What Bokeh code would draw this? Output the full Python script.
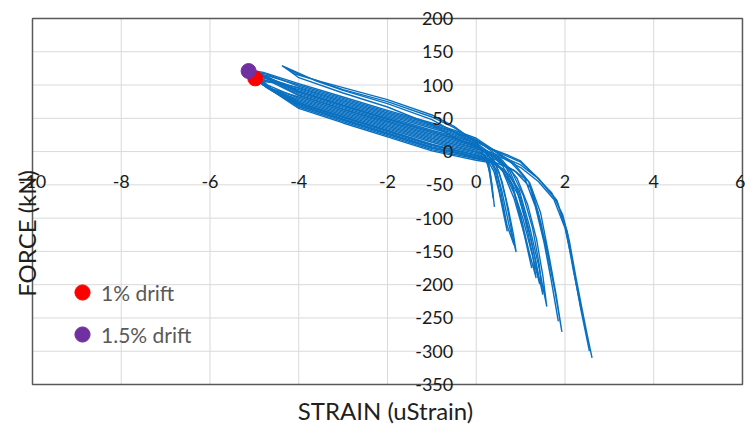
from math import pi
from bokeh.plotting import figure
from bokeh.models import LinearAxis, FixedTicker, Legend, LegendItem, Label, Range1d
from bokeh.embed import file_html
from bokeh.resources import INLINE

# ---------------- data ----------------
x_ticks = [-10, -8, -6, -4, -2, 0, 2, 4, 6]
y_ticks = [200, 150, 100, 50, 0, -50, -100, -150, -200, -250, -300, -350]

loop1_x = [-5.0, -4.7, -4.0, -3.0, -2.0, -1.0, -0.5, 0.0, 0.2, 0.28, 0.33, 0.37, 0.41,
           0.36, 0.3, 0.22, 0.1, 0.0, -0.5, -1.0, -2.0, -3.0, -4.0, -4.6, -5.0]
loop1_y = [110, 96, 78, 57, 36, 16, 7, -1, -6, -18, -40, -60, -83,
           -55, -30, -12, 2, 12, 23, 32, 52, 72, 93, 105, 110]

loop2_x = [-4.9, -4.6, -4.0, -3.0, -2.0, -1.0, -0.5, 0.0, 0.2, 0.27, 0.33, 0.38,
           0.35, 0.3, 0.15, 0.0, -0.5, -1.0, -2.0, -3.0, -4.0, -4.5, -4.9]
loop2_y = [106, 94, 82, 61, 40, 20, 11, 2, -5, -20, -45, -70,
           -48, -25, -3, 15, 27, 37, 56, 76, 96, 103, 106]

loop3_x = [-5.13, -4.8, -4.0, -3.0, -2.0, -1.0, -0.5, 0.0, 0.3, 0.45, 0.58, 0.73, 0.9,
           0.84, 0.72, 0.58, 0.42, 0.2, 0.0, -0.5, -1.0, -2.0, -3.0, -4.0, -4.7, -5.13]
loop3_y = [121, 100, 71, 49, 28, 7, 0, -8, -13, -28, -60, -108, -151,
           -125, -85, -45, -16, -1, 7, 17, 26, 46, 66, 87, 110, 121]

loop4_x = [-5.05, -4.7, -4.0, -3.0, -2.0, -1.0, -0.5, 0.0, 0.3, 0.43, 0.56, 0.7, 0.85,
           0.78, 0.66, 0.52, 0.36, 0.0, -0.5, -1.0, -2.0, -3.0, -4.0, -4.6, -5.05]
loop4_y = [117, 97, 74, 53, 32, 11, 3, -5, -11, -30, -72, -112, -140,
           -112, -70, -32, -8, 10, 21, 30, 50, 70, 91, 108, 117]

loop5_x = [-5.1, -4.75, -4.0, -3.0, -2.0, -1.0, -0.5, 0.0, 0.3, 0.55, 0.8, 1.05, 1.25, 1.43,
           1.34, 1.18, 0.98, 0.76, 0.5, 0.2, 0.0, -0.5, -1.0, -2.0, -3.0, -4.0, -4.7, -5.1]
loop5_y = [120, 98, 67, 45, 24, 3, -4, -11, -15, -24, -50, -100, -152, -199,
           -165, -115, -65, -30, -12, 0, 8, 19, 28, 48, 68, 89, 112, 120]

loop6_x = [-5.0, -4.6, -4.0, -3.0, -2.0, -1.0, -0.5, 0.0, 0.35, 0.6, 0.85, 1.1, 1.35,
           1.27, 1.1, 0.9, 0.66, 0.35, 0.0, -0.5, -1.0, -2.0, -3.0, -4.0, -4.6, -5.0]
loop6_y = [114, 94, 76, 55, 34, 14, 5, -3, -12, -30, -70, -128, -190,
           -155, -102, -55, -22, -4, 13, 25, 35, 54, 74, 95, 108, 114]

loop7_x = [-5.12, -4.8, -4.0, -3.0, -2.0, -1.0, -0.5, 0.0, 0.35, 0.65, 0.97, 1.2, 1.4, 1.59,
           1.5, 1.36, 1.16, 0.92, 0.6, 0.3, 0.0, -0.5, -1.0, -2.0, -3.0, -4.0, -4.7, -5.12]
loop7_y = [122, 100, 65, 43, 22, 1, -6, -13, -17, -28, -58, -112, -170, -233,
           -186, -132, -80, -40, -14, 3, 17, 29, 39, 58, 78, 98, 116, 122]

loop8_x = [-5.05, -4.7, -4.0, -3.0, -2.0, -1.0, -0.5, 0.0, 0.4, 0.68, 0.97, 1.22, 1.5,
           1.42, 1.27, 1.06, 0.8, 0.5, 0.2, 0.0, -0.5, -1.0, -2.0, -3.0, -4.0, -4.6, -5.05]
loop8_y = [118, 96, 72, 51, 30, 9, 2, -6, -14, -33, -68, -128, -215,
           -170, -115, -66, -30, -10, 0, 5, 15, 24, 44, 64, 85, 106, 118]

loop9_x = [-5.13, -4.85, -4.0, -3.0, -2.0, -1.0, -0.5, 0.0, 0.45, 0.85, 1.2, 1.45, 1.65, 1.8, 1.93,
           1.78, 1.6, 1.4, 1.18, 0.85, 0.45, 0.0, -0.5, -1.0, -2.0, -3.0, -4.0, -4.8, -5.13]
loop9_y = [123, 102, 69, 47, 26, 5, -2, -10, -17, -28, -46, -92, -160, -215, -271,
           -212, -152, -92, -45, -18, 0, 20, 32, 43, 62, 82, 102, 119, 123]

loop10_x = [-5.08, -4.7, -4.0, -3.0, -2.0, -1.0, -0.5, 0.0, 0.5, 0.88, 1.22, 1.46, 1.66, 1.85,
            1.7, 1.53, 1.33, 1.08, 0.75, 0.35, 0.0, -0.5, -1.0, -2.0, -3.0, -4.0, -4.7, -5.08]
loop10_y = [119, 100, 80, 59, 38, 18, 9, 0, -14, -30, -54, -108, -182, -255,
            -197, -137, -82, -38, -14, 3, 18, 30, 41, 60, 80, 100, 114, 119]

loop11_x = [-4.38, -4.1, -3.5, -3.0, -2.0, -1.0, -0.5, -0.1, 0.3, 0.7, 1.0, 1.44, 1.82, 2.0,
            2.19, 2.34, 2.45, 2.61,
            2.5, 2.38, 2.25, 2.1, 1.95, 1.7, 1.35, 1.0, 0.6, 0.2, -0.3, -1.0, -2.0, -3.0,
            -3.6, -4.0, -4.38]
loop11_y = [129, 117, 105, 96, 78, 55, 38, 18, 5, -5, -14, -44, -74, -110,
            -179, -228, -262, -310,
            -275, -235, -190, -135, -95, -62, -38, -20, -8, 2, 22, 48, 72, 92,
            106, 118, 129]

loop12_x = [-4.3, -4.0, -3.0, -2.0, -1.0, -0.5, 0.0, 0.4, 1.0, 1.4, 1.8, 2.05, 2.2, 2.35, 2.55,
            2.42, 2.3, 2.15, 2.0, 1.75, 1.4, 1.0, 0.6, 0.2, -0.4, -1.0, -2.0, -3.0, -4.0, -4.3]
loop12_y = [126, 116, 93, 75, 52, 36, 15, 2, -16, -40, -72, -120, -180, -235, -300,
            -255, -215, -160, -115, -72, -45, -24, -10, 0, 18, 40, 67, 88, 111, 126]

loop13_x = [-5.02, -4.7, -4.0, -3.0, -2.0, -1.0, -0.5, 0.0, 0.35, 0.6, 0.85, 1.05, 1.25,
            1.15, 1.0, 0.82, 0.6, 0.35, 0.0, -0.5, -1.0, -2.0, -3.0, -4.0, -4.6, -5.02]
loop13_y = [113, 95, 69, 48, 27, 6, -1, -9, -14, -28, -62, -115, -175,
            -140, -95, -52, -22, -5, 4, 13, 22, 42, 63, 84, 104, 113]

loop14_x = [-5.1, -4.75, -4.0, -3.0, -2.0, -1.0, -0.5, 0.0, 0.25, 0.4, 0.52, 0.62, 0.7,
            0.64, 0.55, 0.45, 0.3, 0.0, -0.5, -1.0, -2.0, -3.0, -4.0, -4.7, -5.1]
loop14_y = [119, 99, 73, 52, 31, 10, 2, -6, -12, -30, -62, -95, -120,
            -92, -58, -28, -8, 9, 20, 30, 49, 69, 90, 112, 119]

drift1_x = [-4.98]
drift1_y = [110]
drift15_x = [-5.13]
drift15_y = [121]

loops_x = [loop1_x, loop2_x, loop3_x, loop4_x, loop5_x, loop6_x, loop7_x,
           loop8_x, loop9_x, loop10_x, loop11_x, loop12_x, loop13_x, loop14_x]
loops_y = [loop1_y, loop2_y, loop3_y, loop4_y, loop5_y, loop6_y, loop7_y,
           loop8_y, loop9_y, loop10_y, loop11_y, loop12_y, loop13_y, loop14_y]

# ---------------- figure ----------------
FONT = "Lato"
X_MIN, X_MAX = x_ticks[0], x_ticks[-1]
Y_MIN, Y_MAX = y_ticks[-1], y_ticks[0]

# the frame covers the whole canvas; the chart's plot area is drawn inside it
p = figure(width=745, height=429,
           x_range=Range1d(-10.721, 6.068), y_range=Range1d(-417.6, 227.0),
           output_backend="svg", toolbar_location=None, title=None,
           x_axis_location=None, y_axis_location=None,
           min_border_left=0, min_border_right=0, min_border_top=0, min_border_bottom=0)
p.background_fill_color = "white"
p.border_fill_color = "white"
p.outline_line_color = None
for g in p.grid:
    g.visible = False

# grid lines inside the plot area
p.segment(x0=x_ticks, y0=[Y_MIN] * len(x_ticks), x1=x_ticks, y1=[Y_MAX] * len(x_ticks),
          line_color="#d9d9d9", line_width=1)
p.segment(x0=[X_MIN] * len(y_ticks), y0=y_ticks, x1=[X_MAX] * len(y_ticks), y1=y_ticks,
          line_color="#d9d9d9", line_width=1)

# plot-area border
p.quad(left=[X_MIN], right=[X_MAX], bottom=[Y_MIN], top=[Y_MAX],
       fill_color=None, line_color="#595959", line_width=1.5)

# tick-label axes crossing at zero
xt = LinearAxis(fixed_location=0, ticker=FixedTicker(ticks=x_ticks),
                major_label_overrides={t: str(t) for t in x_ticks})
yt = LinearAxis(fixed_location=0, ticker=FixedTicker(ticks=y_ticks),
                major_label_overrides={t: str(t) for t in y_ticks})
for ax in (xt, yt):
    ax.axis_line_color = None
    ax.major_tick_line_color = None
    ax.minor_tick_line_color = None
    ax.major_tick_in = 0
    ax.major_tick_out = 0
    ax.major_label_text_font = FONT
    ax.major_label_text_font_size = "18px"
    ax.major_label_text_color = "#1a1a1a"
xt.major_label_standoff = 23
yt.major_label_standoff = 23
p.add_layout(xt, "below")
p.add_layout(yt, "left")

# data
p.multi_line(xs=loops_x, ys=loops_y, line_color="#0a70c0", line_width=1.4)
r_red = p.scatter(drift1_x, drift1_y, size=15, fill_color="#ff0000", line_color="#ff0000")
r_pur = p.scatter(drift15_x, drift15_y, size=15, fill_color="#7030a0", line_color="#7030a0")

legend = Legend(items=[LegendItem(label="1% drift", renderers=[r_red]),
                       LegendItem(label="1.5% drift", renderers=[r_pur])],
                location=(63, 76), orientation="vertical",
                background_fill_alpha=0, border_line_color=None,
                margin=0, padding=0, glyph_width=38, glyph_height=38,
                label_height=38, spacing=4, label_standoff=0,
                label_text_font=FONT, label_text_font_size="21px",
                label_text_color="#595959")
p.add_layout(legend)

p.add_layout(Label(x=-10.135, y=-123, text="FORCE (kN)", angle=pi / 2,
                   text_align="center", text_baseline="middle",
                   text_font=FONT, text_font_size="24px", text_color="#1f1f1f"))
p.add_layout(Label(x=-2.045, y=-389, text="STRAIN (uStrain)",
                   text_align="center", text_baseline="middle",
                   text_font=FONT, text_font_size="24px", text_color="#1f1f1f"))

open("out.html", "w").write(file_html(p, INLINE))
